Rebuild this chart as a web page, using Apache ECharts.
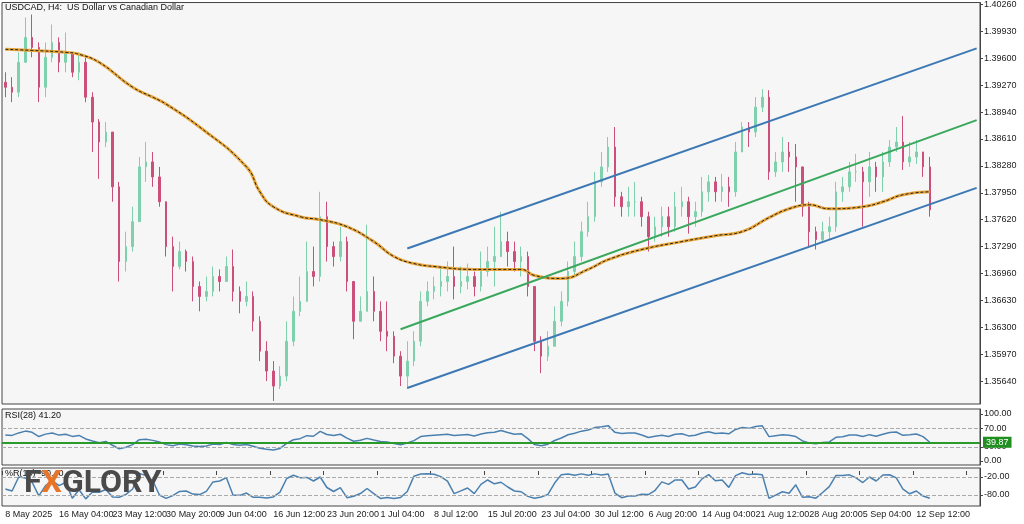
<!DOCTYPE html>
<html><head><meta charset="utf-8">
<script src="https://cdn.jsdelivr.net/npm/echarts@6/dist/echarts.min.js"></script>
<style>html,body{margin:0;padding:0;background:#fff}#c{width:1024px;height:524px}</style>
</head><body><div id="c"></div>
<script>
const tickLabels = ['8 May 2025','16 May 04:00','23 May 12:00','30 May 20:00','9 Jun 04:00','16 Jun 12:00','23 Jun 20:00','1 Jul 04:00','8 Jul 12:00','15 Jul 20:00','23 Jul 04:00','30 Jul 12:00','6 Aug 20:00','14 Aug 04:00','21 Aug 12:00','28 Aug 20:00','5 Sep 04:00','12 Sep 12:00'];
const closes = [1.39245,1.39184,1.39551,1.39856,1.39734,1.39245,1.39612,1.39795,1.39551,1.39673,1.39429,1.39551,1.39123,1.38818,1.38573,1.38695,1.38023,1.37107,1.37290,1.37596,1.38268,1.38329,1.38145,1.37840,1.37290,1.37046,1.37229,1.37107,1.36801,1.36679,1.36740,1.36923,1.36862,1.37046,1.36740,1.36618,1.36679,1.36374,1.36007,1.35763,1.35579,1.35701,1.36129,1.36496,1.36618,1.36984,1.36923,1.37657,1.37290,1.37168,1.37351,1.36862,1.36374,1.36496,1.36740,1.36496,1.36251,1.36190,1.35946,1.35701,1.35885,1.36129,1.36618,1.36740,1.36801,1.36862,1.36923,1.36801,1.36862,1.36923,1.36801,1.36984,1.37107,1.37168,1.37351,1.37229,1.37107,1.37168,1.36801,1.36129,1.35946,1.36068,1.36374,1.36618,1.36984,1.37168,1.37473,1.37657,1.38084,1.38268,1.38512,1.37901,1.37779,1.37840,1.37840,1.37657,1.37412,1.37534,1.37657,1.37534,1.37779,1.37840,1.37657,1.37718,1.37962,1.38084,1.37962,1.38023,1.37962,1.38451,1.38756,1.38695,1.39001,1.39123,1.38207,1.38329,1.38451,1.38390,1.38268,1.37779,1.37473,1.37376,1.37473,1.37534,1.37962,1.38023,1.38207,1.38207,1.38084,1.38268,1.38145,1.38329,1.38512,1.38573,1.38329,1.38390,1.38451,1.38268,1.37741];
const highs = [1.39429,1.39368,1.39673,1.40101,1.40137,1.39795,1.39795,1.40015,1.39856,1.39917,1.39673,1.39673,1.39612,1.39184,1.38854,1.38818,1.38695,1.38084,1.37473,1.37779,1.38390,1.38573,1.38451,1.38268,1.37840,1.37412,1.37351,1.37254,1.37168,1.36862,1.36923,1.37046,1.37010,1.37168,1.37254,1.36801,1.36862,1.36740,1.36435,1.36129,1.35885,1.35824,1.36374,1.36679,1.36923,1.37351,1.37290,1.37962,1.37840,1.37351,1.37534,1.37412,1.36862,1.36679,1.37559,1.36923,1.36618,1.36618,1.36251,1.36007,1.36129,1.36251,1.36740,1.36862,1.36923,1.37046,1.37107,1.37290,1.37046,1.37082,1.36984,1.37229,1.37290,1.37534,1.37718,1.37473,1.37351,1.37290,1.37229,1.36801,1.36190,1.36251,1.36557,1.36740,1.37107,1.37351,1.37596,1.37840,1.38207,1.38451,1.38634,1.38757,1.37962,1.38023,1.38084,1.37901,1.37718,1.37657,1.37779,1.37779,1.37962,1.38023,1.37901,1.37840,1.38145,1.38170,1.38145,1.38182,1.38145,1.38573,1.38818,1.38818,1.39123,1.39221,1.39209,1.38451,1.38634,1.38573,1.38549,1.38023,1.37840,1.37534,1.37596,1.37657,1.38084,1.38145,1.38329,1.38427,1.38268,1.38451,1.38329,1.38451,1.38598,1.38757,1.38891,1.38573,1.38598,1.38451,1.38390];
const lows = [1.39123,1.39062,1.39123,1.39551,1.39612,1.39062,1.39123,1.39551,1.39429,1.39429,1.39368,1.39331,1.39062,1.38451,1.38121,1.38512,1.37840,1.36862,1.36984,1.37229,1.37657,1.38084,1.38023,1.37779,1.37168,1.36740,1.37010,1.36984,1.36618,1.36496,1.36618,1.36679,1.36740,1.36862,1.36618,1.36471,1.36557,1.36251,1.35885,1.35640,1.35396,1.35543,1.35640,1.36068,1.36435,1.36740,1.36801,1.36862,1.37107,1.37046,1.37107,1.36740,1.36154,1.36374,1.36496,1.36374,1.36129,1.36007,1.35860,1.35579,1.35543,1.35824,1.36068,1.36557,1.36643,1.36679,1.36740,1.36643,1.36716,1.36765,1.36679,1.36740,1.36923,1.36801,1.37229,1.37046,1.36984,1.36923,1.36679,1.36007,1.35738,1.35885,1.36068,1.36313,1.36557,1.36923,1.37107,1.37412,1.37596,1.38023,1.38207,1.37779,1.37657,1.37657,1.37657,1.37534,1.37229,1.37351,1.37412,1.37412,1.37473,1.37657,1.37449,1.37534,1.37657,1.37840,1.37840,1.37840,1.37779,1.37901,1.38451,1.38512,1.38634,1.38940,1.38109,1.38145,1.38207,1.38207,1.37840,1.37657,1.37290,1.37254,1.37351,1.37376,1.37473,1.37840,1.37962,1.38084,1.37534,1.37901,1.37962,1.37962,1.38268,1.38451,1.38231,1.38268,1.38304,1.38145,1.37657];
const firstOpen = 1.39306;
const maPoints = [[0,1.39710],[4,1.39697],[9,1.39673],[11,1.39649],[14,1.39551],[19,1.39245],[22,1.39123],[24,1.39038],[29,1.38757],[36,1.38268],[38,1.37962],[40,1.37779],[44,1.37657],[47,1.37620],[51,1.37534],[55,1.37351],[58,1.37168],[61,1.37082],[64,1.37046],[70,1.37010],[74,1.37010],[77,1.37010],[79,1.36936],[83,1.36899],[87,1.37010],[90,1.37131],[95,1.37254],[101,1.37351],[106,1.37424],[110,1.37473],[114,1.37645],[117,1.37754],[120,1.37803],[123,1.37754],[128,1.37779],[131,1.37840],[134,1.37926],[138,1.37962]];
const channelUpper = [[60,1.37266],[145,1.39722]];
const channelMid = [[59,1.36276],[145,1.38842]];
const channelLower = [[60,1.35555],[145,1.38011]];
const rsiLevel = 39.87;
const SLOTS = 146, LABEL_STEP = 8;

const cats = [];
for (let i = 0; i < SLOTS; i++) cats.push(i % LABEL_STEP === 0 && tickLabels[i / LABEL_STEP] ? tickLabels[i / LABEL_STEP] : '');
const ohlc = closes.map((c, i) => [i === 0 ? firstOpen : closes[i - 1], c, lows[i], highs[i]]);
// RSI (Wilder) on these bars
const P = 12; const rsi = []; let ag = 0, al = 0;
for (let i = 0; i < closes.length; i++) {
  const ch = i === 0 ? closes[0] - firstOpen : closes[i] - closes[i - 1];
  const g = Math.max(ch, 0), l = Math.max(-ch, 0);
  if (i === 0) { ag = 0.0015; al = 0.0012; } else { ag = (ag * (P - 1) + g) / P; al = (al * (P - 1) + l) / P; }
  rsi.push(+(100 - 100 / (1 + ag / al)).toFixed(2));
}
// Williams %R
const W = 4; const wr = [];
for (let i = 0; i < closes.length; i++) {
  const s = Math.max(0, i - W + 1);
  const hh = Math.max(...highs.slice(s, i + 1)), ll = Math.min(...lows.slice(s, i + 1));
  wr.push(+(((hh - closes[i]) / (hh - ll)) * -100).toFixed(2));
}
const lastClose = closes[closes.length - 1];
const axFont = { fontFamily: 'Liberation Sans', fontSize: 9, color: '#222' };
const L = 2, R = 44;
const chart = echarts.init(document.getElementById('c'));
chart.setOption({
  animation: false,
  backgroundColor: '#ffffff',
  grid: [
    { left: L, right: R, top: 1, height: 403, show: true, backgroundColor: '#f6f6f6', borderColor: '#444', borderWidth: 1 },
    { left: L, right: R, top: 409, height: 56, show: true, backgroundColor: '#f6f6f6', borderColor: '#444', borderWidth: 1 },
    { left: L, right: R, top: 468, height: 38, show: true, backgroundColor: '#f6f6f6', borderColor: '#444', borderWidth: 1 }
  ],
  xAxis: [0, 1, 2].map(g => ({
    type: 'category', gridIndex: g, data: cats, boundaryGap: true,
    axisLine: { show: false }, splitLine: { show: false },
    axisTick: { show: g === 2, inside: false, length: 4, interval: (i) => i % LABEL_STEP === 0, lineStyle: { color: '#444' } },
    axisLabel: g === 2 ? Object.assign({ interval: (i) => i % LABEL_STEP === 0 && i <= 136, align: 'left', margin: 4 }, axFont) : { show: false }
  })),
  yAxis: [
    { type: 'value', gridIndex: 0, position: 'right', min: 1.35359, max: 1.40284, interval: 0.0033,
      axisLine: { show: true, lineStyle: { color: '#444' } }, axisTick: { show: true, length: 3, customValues: [1.3564,1.3597,1.363,1.3663,1.3696,1.3729,1.3762,1.3795,1.3828,1.3861,1.3894,1.3927,1.396,1.3993,1.4026] },
      splitLine: { show: false },
      axisLabel: Object.assign({ margin: 4, customValues: [1.3564,1.3597,1.363,1.3663,1.3696,1.3729,1.3762,1.3795,1.3828,1.3861,1.3894,1.3927,1.396,1.3993,1.4026], formatter: v => v.toFixed(5) }, axFont) },
    { type: 'value', gridIndex: 1, position: 'right', min: -8.5, max: 110.6,
      axisLine: { show: true, lineStyle: { color: '#444' } }, splitLine: { show: false },
      axisTick: { show: true, length: 3, customValues: [0, 30, 70, 100] },
      axisLabel: Object.assign({ margin: 4, customValues: [0, 30, 70, 100], formatter: v => v.toFixed(2) }, axFont) },
    { type: 'value', gridIndex: 2, position: 'right', min: -116.7, max: 10,
      axisLine: { show: true, lineStyle: { color: '#444' } }, splitLine: { show: false },
      axisTick: { show: true, length: 3, customValues: [-100, -80, -20, 0] },
      axisLabel: Object.assign({ margin: 4, customValues: [-100, -80, -20, 0], formatter: v => v.toFixed(2) }, axFont) }
  ],
  series: [
    { type: 'candlestick', xAxisIndex: 0, yAxisIndex: 0, data: ohlc, barWidth: 2,
      itemStyle: { color: '#7fd1ad', color0: '#cc4f7b', borderColor: '#7fd1ad', borderColor0: '#cc4f7b', borderWidth: 1 },
      markLine: { silent: true, symbol: 'none', data: [{ yAxis: lastClose }], lineStyle: { opacity: 0 },
        label: { position: 'end', distance: 3, formatter: lastClose.toFixed(5), backgroundColor: '#000', color: '#fff', fontSize: 9, fontFamily: 'Liberation Sans', padding: [1, 3] } } },
    { type: 'line', xAxisIndex: 0, yAxisIndex: 0, data: maPoints, smooth: true, symbol: 'none', lineStyle: { color: '#e8a63a', width: 3 } },
    { type: 'line', xAxisIndex: 0, yAxisIndex: 0, data: maPoints, smooth: true, symbol: 'none', lineStyle: { color: '#222', width: 1, type: [3, 2] } },
    { type: 'line', xAxisIndex: 0, yAxisIndex: 0, data: channelUpper, symbol: 'none', lineStyle: { color: '#3c78b4', width: 2 } },
    { type: 'line', xAxisIndex: 0, yAxisIndex: 0, data: channelMid, symbol: 'none', lineStyle: { color: '#3aa85c', width: 2 } },
    { type: 'line', xAxisIndex: 0, yAxisIndex: 0, data: channelLower, symbol: 'none', lineStyle: { color: '#3c78b4', width: 2 } },
    { type: 'line', xAxisIndex: 1, yAxisIndex: 1, data: rsi, symbol: 'none', lineStyle: { color: '#4a80b0', width: 1.5 },
      markLine: { silent: true, symbol: 'none', data: [
        { yAxis: 70, lineStyle: { color: '#aaa', type: 'dashed', width: 1 }, label: { show: false } },
        { yAxis: 30, lineStyle: { color: '#aaa', type: 'dashed', width: 1 }, label: { show: false } },
        { yAxis: rsiLevel, lineStyle: { color: '#2a9a2a', type: 'solid', width: 2 },
          label: { position: 'end', distance: 3, formatter: rsiLevel.toFixed(2), backgroundColor: '#1f8f1f', color: '#fff', fontSize: 9, fontFamily: 'Liberation Sans', padding: [1, 3] } }
      ] } },
    { type: 'line', xAxisIndex: 2, yAxisIndex: 2, data: wr, symbol: 'none', lineStyle: { color: '#4a80b0', width: 1.5 },
      markLine: { silent: true, symbol: 'none', label: { show: false }, lineStyle: { color: '#aaa', type: 'dashed', width: 1 }, data: [{ yAxis: -20 }, { yAxis: -80 }] } }
  ],
  graphic: [
    { type: 'text', left: 5, top: 3, style: { text: 'USDCAD, H4:  US Dollar vs Canadian Dollar', font: '9px Liberation Sans', fill: '#111' } },
    { type: 'text', left: 5, top: 411, style: { text: 'RSI(28) 41.20', font: '9px Liberation Sans', fill: '#111' } },
    { type: 'text', left: 5, top: 469, style: { text: '%R(14) -90.40', font: '9px Liberation Sans', fill: '#111' } },
    { type: 'text', left: 24, top: 468, z: 100, style: { rich: { a: { font: 'bold 32px Roboto', fill: '#4a4a4a' }, b: { font: 'bold 32px Roboto', fill: '#e8742a' } }, text: '{a|F}{b|X}{a|GLORY}' } }
  ]
});
</script></body></html>
